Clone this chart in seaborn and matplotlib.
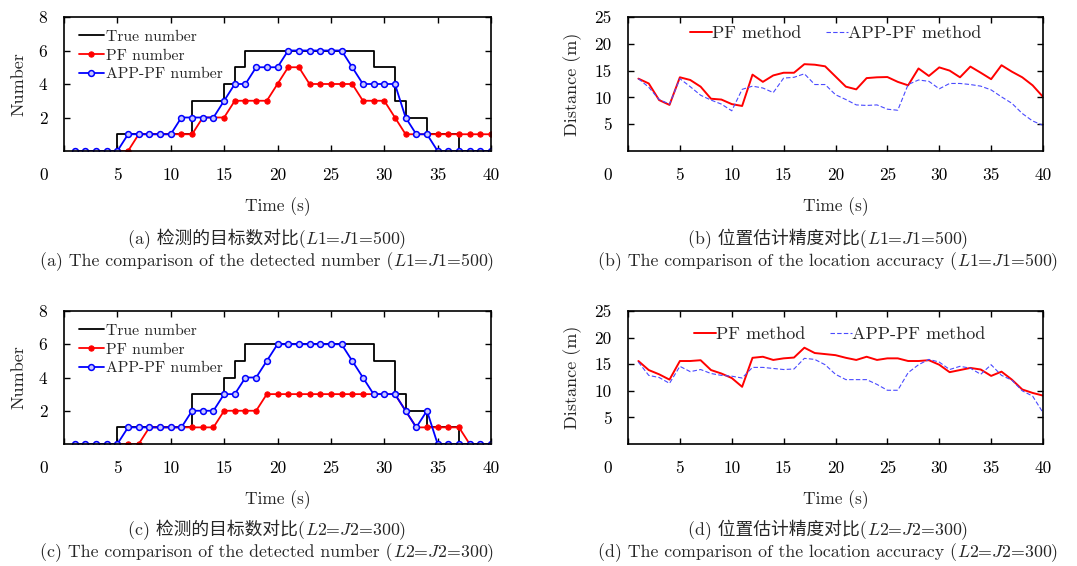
import numpy as np
import pandas as pd
import matplotlib
matplotlib.use("Agg")
import matplotlib.pyplot as plt
import matplotlib.transforms as mtransforms
from matplotlib.offsetbox import TextArea, HPacker, AnnotationBbox
import seaborn as sns

# time axis
t = list(range(1, 41))

# true target number (same in both runs)
true_num = [0, 0, 0, 0, 1, 1, 1, 1, 1, 1, 1, 3, 3, 3, 4, 5, 6, 6, 6, 6,
            6, 6, 6, 6, 6, 6, 6, 6, 5, 5, 3, 2, 2, 1, 1, 1, 0, 0, 0, 0]

# (a) L1=J1=500
pf_num_a = [0, 0, 0, 0, 0, 0, 1, 1, 1, 1, 1, 1, 2, 2, 2, 3, 3, 3, 3, 4,
            5, 5, 4, 4, 4, 4, 4, 3, 3, 3, 2, 1, 1, 1, 1, 1, 1, 1, 1, 1]
app_num_a = [0, 0, 0, 0, 0, 1, 1, 1, 1, 1, 2, 2, 2, 2, 3, 4, 4, 5, 5, 5,
             6, 6, 6, 6, 6, 6, 5, 4, 4, 4, 4, 2, 1, 1, 0, 0, 0, 0, 0, 0]

# (c) L2=J2=300
pf_num_c = [0, 0, 0, 0, 0, 0, 0, 1, 1, 1, 1, 1, 1, 1, 2, 2, 2, 2, 3, 3,
            3, 3, 3, 3, 3, 3, 3, 3, 3, 3, 3, 2, 1, 1, 1, 1, 1, 0, 0, 0]
app_num_c = [0, 0, 0, 0, 0, 1, 1, 1, 1, 1, 1, 2, 2, 2, 3, 3, 4, 4, 5, 6,
             6, 6, 6, 6, 6, 6, 5, 4, 3, 3, 3, 2, 1, 2, 0, 0, 0, 0, 0, 0]

# (b) location error, L1=J1=500
pf_dist_b = [13.5, 12.6, 9.5, 8.6, 13.75, 13.25, 12.0, 9.75, 9.6, 8.75,
             8.4, 14.25, 12.9, 14.1, 14.6, 14.6, 16.2, 16.1, 15.8, 13.9,
             12.0, 11.5, 13.6, 13.75, 13.8, 12.9, 12.25, 15.4, 14.0, 15.6,
             15.0, 13.75, 15.75, 14.6, 13.4, 16.0, 14.8, 13.75, 12.25, 10.1]
app_dist_b = [13.5, 11.9, 9.6, 8.75, 13.5, 12.0, 10.4, 9.5, 8.75, 7.5,
              11.5, 12.1, 11.75, 10.9, 13.6, 13.75, 14.4, 12.4, 12.4, 10.5,
              9.6, 8.6, 8.5, 8.6, 7.8, 7.6, 12.4, 13.25, 13.0, 11.6,
              12.6, 12.6, 12.4, 12.1, 11.4, 10.1, 8.9, 7.0, 5.6, 4.8]

# (d) location error, L2=J2=300
pf_dist_d = [15.6, 13.9, 13.1, 12.1, 15.6, 15.6, 15.75, 13.9, 13.25, 12.4,
             10.75, 16.2, 16.4, 15.8, 16.1, 16.25, 18.1, 17.1, 16.9, 16.7,
             16.2, 15.8, 16.4, 15.8, 16.1, 16.1, 15.6, 15.6, 15.75, 14.9,
             13.5, 13.9, 14.3, 14.0, 12.8, 13.6, 12.1, 10.25, 9.6, 9.1]
app_dist_d = [15.4, 12.9, 12.5, 11.4, 14.6, 13.6, 14.0, 13.25, 12.9, 12.75,
              12.4, 14.4, 14.4, 14.2, 14.0, 14.1, 16.1, 15.9, 14.9, 13.1,
              12.1, 12.1, 12.1, 11.2, 10.1, 10.1, 13.4, 14.9, 15.9, 15.4,
              14.0, 14.6, 14.25, 13.1, 14.9, 12.9, 12.0, 10.0, 9.0, 5.9]

x_ticks = [0, 5, 10, 15, 20, 25, 30, 35, 40]
num_ticks = [2, 4, 6, 8]
dist_ticks = [5, 10, 15, 20, 25]

# captions: chinese part, parameter part, english part
cap_zh = ["(a) 检测的目标数对比(", "(b) 位置估计精度对比(",
          "(c) 检测的目标数对比(", "(d) 位置估计精度对比("]
cap_param = ["$L1$=$J1$=500)", "$L1$=$J1$=500)",
             "$L2$=$J2$=300)", "$L2$=$J2$=300)"]
cap_en = ["(a) The comparison of the detected number ",
          "(b) The comparison of the location accuracy ",
          "(c) The comparison of the detected number ",
          "(d) The comparison of the location accuracy "]

sns.set_style("ticks")
FAMILY = ['cmr10', 'Noto Sans CJK SC', 'DejaVu Sans']
plt.rcParams['font.family'] = FAMILY
plt.rcParams['mathtext.fontset'] = 'cm'
plt.rcParams['axes.formatter.use_mathtext'] = True
FS = 12.5

fig = plt.figure(figsize=(10.77, 5.66), dpi=100)
W, H = 1077.0, 566.0


def add_ax(l, r, top, bot):
    return fig.add_axes([l / W, 1 - bot / H, (r - l) / W, (bot - top) / H])


ax_a = add_ax(64, 491, 17, 151)
ax_b = add_ax(628, 1043, 17, 151)
ax_c = add_ax(64, 491, 311, 444)
ax_d = add_ax(628, 1043, 311, 444)


def style_axis(ax, yticks, ylim, ylabel, ypad):
    ax.set_xlim(0, 40)
    ax.set_ylim(*ylim)
    ax.set_xticks(x_ticks, [str(v) for v in x_ticks])
    ax.set_yticks(yticks, [str(v) for v in yticks])
    ax.tick_params(direction='in', top=True, right=True, length=4,
                   width=1, labelsize=FS, pad=12, colors='black')
    for sp in ax.spines.values():
        sp.set_visible(True)
        sp.set_linewidth(1.2)
        sp.set_color('black')
    ax.set_xlabel("Time (s)", fontsize=FS, labelpad=10)
    ax.set_ylabel(ylabel, fontsize=13, labelpad=ypad)
    # the "0" label sits left of the frame in the original
    lab0 = ax.get_xticklabels()[0]
    off = mtransforms.ScaledTranslation(-20 / 100.0, 0, fig.dpi_scale_trans)
    lab0.set_transform(lab0.get_transform() + off)


def number_panel(ax, pf, app):
    sns.lineplot(x=t, y=true_num, ax=ax, color='black', lw=1.3,
                 drawstyle='steps-post', label='True number')
    sns.lineplot(x=t, y=pf, ax=ax, color='red', lw=1.3, marker='o',
                 markersize=3.8, markeredgecolor='red', label='PF number')
    sns.lineplot(x=t, y=app, ax=ax, color='blue', lw=1.3, marker='o',
                 markersize=4.2, markerfacecolor='#c8c8ff',
                 markeredgecolor='blue', markeredgewidth=1.1,
                 label='APP-PF number')
    h, l = ax.get_legend_handles_labels()
    ax.legend(h, l, loc='upper left', bbox_to_anchor=(0.02, 0.95),
              frameon=False, fontsize=11.3, handlelength=1.6,
              handletextpad=0.15, labelspacing=0.3, borderaxespad=0)
    style_axis(ax, num_ticks, (0, 8), "Number", 9)


def dist_panel(ax, pf, app, anchor):
    sns.lineplot(x=t, y=pf, ax=ax, color='red', lw=1.4, label='PF method')
    sns.lineplot(x=t, y=app, ax=ax, color='#4a4aff', lw=0.8,
                 dashes=False, label='APP-PF method')
    ax.lines[-1].set_dashes([4, 2])
    h, l = ax.get_legend_handles_labels()
    ax.legend(h, l, loc='upper center', bbox_to_anchor=anchor, ncol=2,
              frameon=False, fontsize=13, handlelength=1.2,
              handletextpad=0.0, columnspacing=1.4, borderaxespad=0)
    style_axis(ax, dist_ticks, (0, 25), "Distance (m)", 9)


number_panel(ax_a, pf_num_a, app_num_a)
number_panel(ax_c, pf_num_c, app_num_c)
dist_panel(ax_b, pf_dist_b, app_dist_b, (0.5, 0.99))
dist_panel(ax_d, pf_dist_d, app_dist_d, (0.51, 0.94))

CFS = 12.8
cap_pos = [(267, 240, 262), (828, 240, 262), (267, 531, 553), (828, 531, 553)]


def caption_line(parts, x, y):
    boxes = [TextArea(p, textprops=dict(fontsize=CFS, family=FAMILY))
             for p in parts]
    pack = HPacker(children=boxes, align='baseline', pad=0, sep=0)
    ab = AnnotationBbox(pack, (x / W, 1 - y / H), xycoords='figure fraction',
                        frameon=False, box_alignment=(0.5, 0.5), pad=0)
    fig.add_artist(ab)


for zh, prm, en, (cx, y1, y2) in zip(cap_zh, cap_param, cap_en, cap_pos):
    caption_line([zh, prm], cx, y1)
    caption_line([en + "(", prm], cx, y2)

fig.savefig("out.png", dpi=100, facecolor='white')
